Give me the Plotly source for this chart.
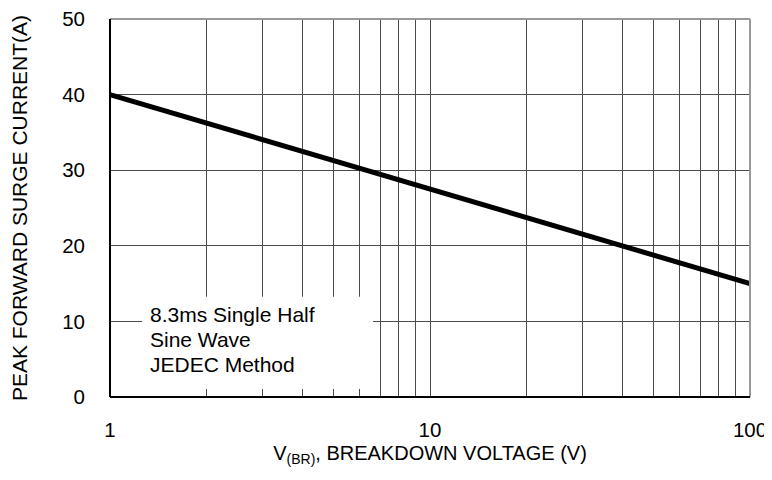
import plotly.graph_objects as go

voltage = [1, 10, 100]
current = [40, 27.5, 15]

grid_x = [1, 2, 3, 4, 5, 6, 7, 8, 9, 10, 20, 30, 40, 50, 60, 70, 80, 90, 100]
grid_text = ["1", "", "", "", "", "", "", "", "", "10", "", "", "", "", "", "", "", "", "100"]
y_ticks = [0, 10, 20, 30, 40, 50]
note_lines = ["8.3ms Single Half", "Sine Wave", "JEDEC Method"]

fig = go.Figure()
fig.add_trace(go.Scatter(x=voltage, y=current, mode="lines",
                         line=dict(color="black", width=5), showlegend=False))

FAM = "Liberation Sans, Arial, sans-serif"
font = dict(family=FAM, size=20.5, color="black")

fig.update_layout(
    width=764, height=472,
    margin=dict(l=102, r=22, t=11, b=83),
    paper_bgcolor="white", plot_bgcolor="white",
    font=font,
    xaxis=dict(type="log", range=[0, 2], tickvals=grid_x, ticktext=grid_text,
               showgrid=True, gridcolor="#4a4a4a", gridwidth=1, zeroline=False,
               showline=False, ticks="", ticklabelstandoff=18, automargin=False,
               ticklabeloverflow="allow",
               tickfont=dict(family=FAM, size=20.5, color="black"),
               title=dict(text="V<sub>(BR)</sub>, BREAKDOWN VOLTAGE (V)", standoff=6,
                          font=dict(family=FAM, size=20, color="black"))),
    yaxis=dict(range=[0, 50], tickvals=y_ticks, showgrid=True, gridcolor="#4a4a4a",
               gridwidth=1, zeroline=False, showline=False, ticks="",
               ticklabelstandoff=24, automargin=False,
               ticklabeloverflow="allow",
               tickfont=dict(family=FAM, size=20.5, color="black"),
               title=dict(text="PEAK FORWARD SURGE CURRENT(A)", standoff=31,
                          font=dict(family=FAM, size=21, color="black"))),
)

# frame
fig.add_shape(type="line", xref="paper", yref="paper", x0=0, x1=1, y0=1, y1=1,
              line=dict(color="#999999", width=2), layer="above")
fig.add_shape(type="line", xref="paper", yref="paper", x0=1, x1=1, y0=0, y1=1,
              line=dict(color="#999999", width=2), layer="above")
fig.add_shape(type="line", xref="paper", yref="paper", x0=0, x1=0, y0=0, y1=1,
              line=dict(color="black", width=2), layer="above")
fig.add_shape(type="line", xref="paper", yref="paper", x0=0, x1=1, y0=0, y1=0,
              line=dict(color="black", width=2), layer="above")

# text box
fig.add_shape(type="rect", xref="paper", yref="paper", x0=0.05, x1=0.411, y0=0.021, y1=0.265,
              fillcolor="white", line=dict(width=0), layer="above")
for txt, yy in zip(note_lines, [0.217, 0.152, 0.087]):
    fig.add_annotation(xref="paper", yref="paper", x=0.059, y=yy, xanchor="left",
                       yanchor="middle", align="left", showarrow=False,
                       font=dict(family=FAM, size=21, color="black"), text=txt)

fig.write_html("out.html")
